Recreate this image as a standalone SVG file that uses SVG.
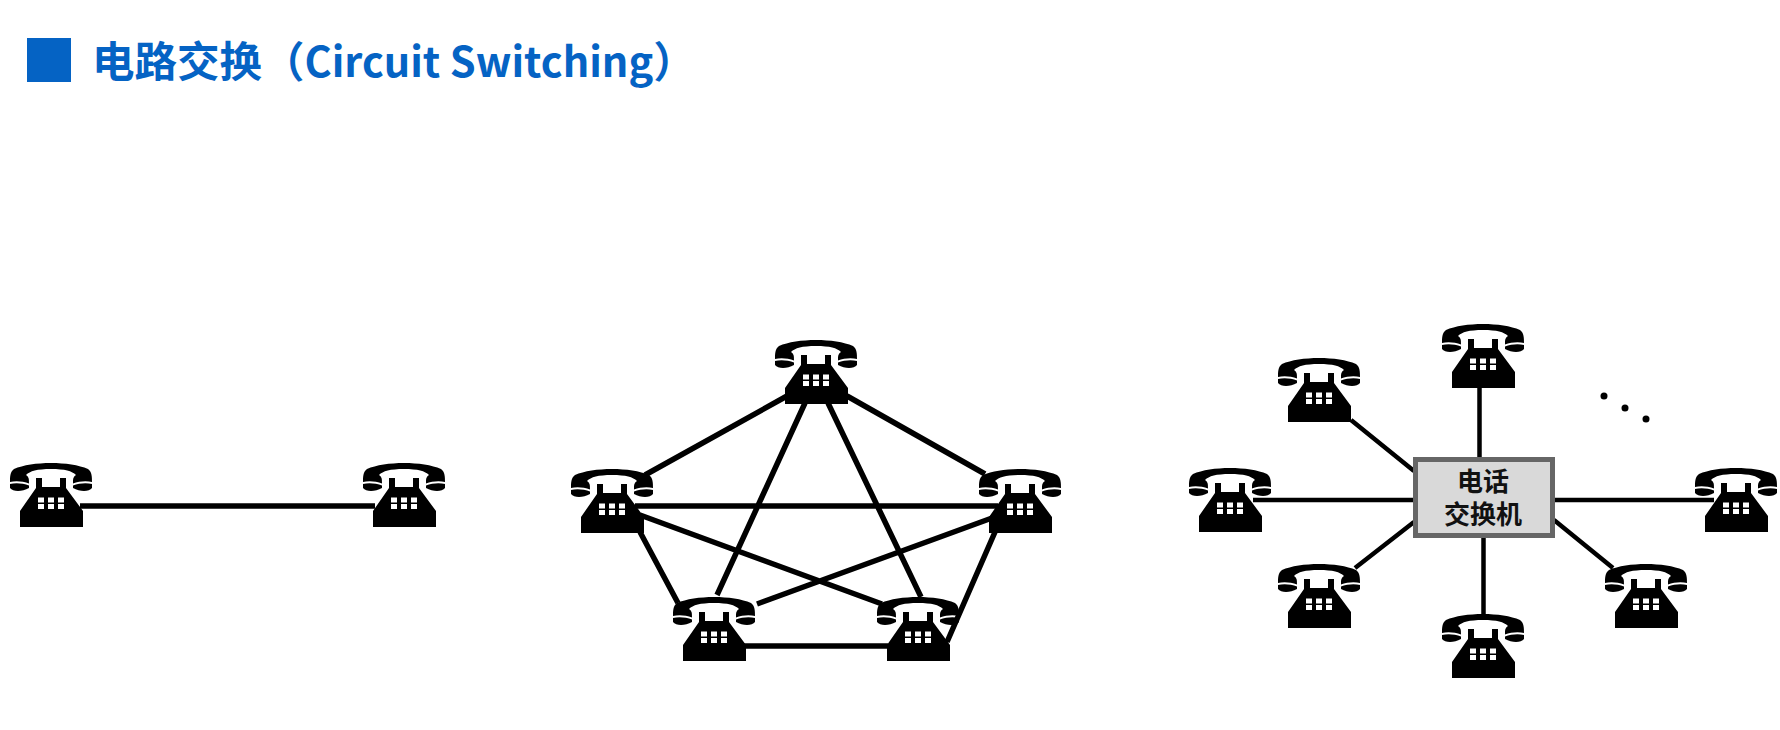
<svg xmlns="http://www.w3.org/2000/svg" width="1780" height="730" viewBox="0 0 1780 730">
<style>
.l{stroke:#000;stroke-width:5.500;fill:none}
.s{stroke-width:4.500}
.t{font-family:"Noto Sans CJK SC","Open Sans",sans-serif;font-weight:700;fill:#0563c4;font-size:42.500px}
.b{font-family:"Liberation Sans","Noto Sans CJK SC",sans-serif;font-weight:700;fill:#111;font-size:26px;text-anchor:middle}
</style>
<defs>
<g id="phone">
<path d="M-37,6C-28,2 -14,0 0,0C14,0 28,2 37,6C41,9 41,14 41,19C36,17.500 28,18 22,20.500C22,16 22,14 25,12C21,8 14,6 0,6C-14,6 -21,8 -25,12C-22,14 -22,16 -22,20.500C-28,18 -36,17.500 -41,19C-41,14 -41,9 -37,6Z"/>
<path d="M-41,21C-36,19.500 -28,20 -22,22.500L-22,25C-29,29 -38,29 -41,25Z"/>
<path d="M41,21C36,19.500 28,20 22,22.500L22,25C29,29 38,29 41,25Z"/>
<path d="M-15,15H-9V24H9V15H15V25L32,48V64H-31V48L-15,25Z"/>
<path fill="#fff" d="M-13,34.500h6v5h-6zM-3,34.500h6v5h-6zM7,34.500h6v5h-6zM-13,41h6v5h-6zM-3,41h6v5h-6zM7,41h6v5h-6z"/>
</g>
</defs>
<rect width="1780" height="730" fill="#fff"/>
<rect x="27" y="38" width="44" height="44" fill="#0563c4"/>
<text class="t" x="92" y="77">电路交换（<tspan font-size="41.500">Circuit Switching</tspan>）</text>
<g id="phone-a1"><use href="#phone" x="51" y="463"/></g>
<g id="phone-a2"><use href="#phone" x="404" y="463"/></g>
<g id="phone-b1"><use href="#phone" x="816" y="340"/></g>
<g id="phone-b2"><use href="#phone" x="612" y="469"/></g>
<g id="phone-b3"><use href="#phone" x="1020" y="469"/></g>
<g id="phone-b4"><use href="#phone" x="714" y="597"/></g>
<g id="phone-b5"><use href="#phone" x="918" y="597"/></g>
<g id="phone-c1"><use href="#phone" x="1483" y="324"/></g>
<g id="phone-c2"><use href="#phone" x="1319" y="358"/></g>
<g id="phone-c3"><use href="#phone" x="1230" y="468"/></g>
<g id="phone-c4"><use href="#phone" x="1319" y="564"/></g>
<g id="phone-c5"><use href="#phone" x="1483" y="614"/></g>
<g id="phone-c6"><use href="#phone" x="1646" y="564"/></g>
<g id="phone-c7"><use href="#phone" x="1736" y="468"/></g>
<g id="connectors">
<path class="l" d="M80,506H375"/>
<path class="l" d="M787,396L645,475M847,396L985,474M805,403L717,595M828,403L921,597M635,506H998M640,515L882,604M992,518L757,604M640,532L678,603M995,532L947,642M743,646H888"/>
<path class="l s" d="M1479.500,387V457M1483.500,538V614M1253,500H1415M1555,500H1714M1351,420L1414,471M1414,522L1355,568M1554,520L1613,568"/>
</g>
<g id="switch">
<rect x="1415.500" y="459.500" width="137" height="76" fill="#d9d9d9" stroke="#666" stroke-width="5"/>
<text class="b" x="1483" y="491">电话</text>
<text class="b" x="1483" y="524">交换机</text>
</g>
<g id="dots"><circle cx="1604" cy="396" r="3.500"/><circle cx="1625" cy="408" r="3.500"/><circle cx="1646" cy="419" r="3.500"/></g>
</svg>
